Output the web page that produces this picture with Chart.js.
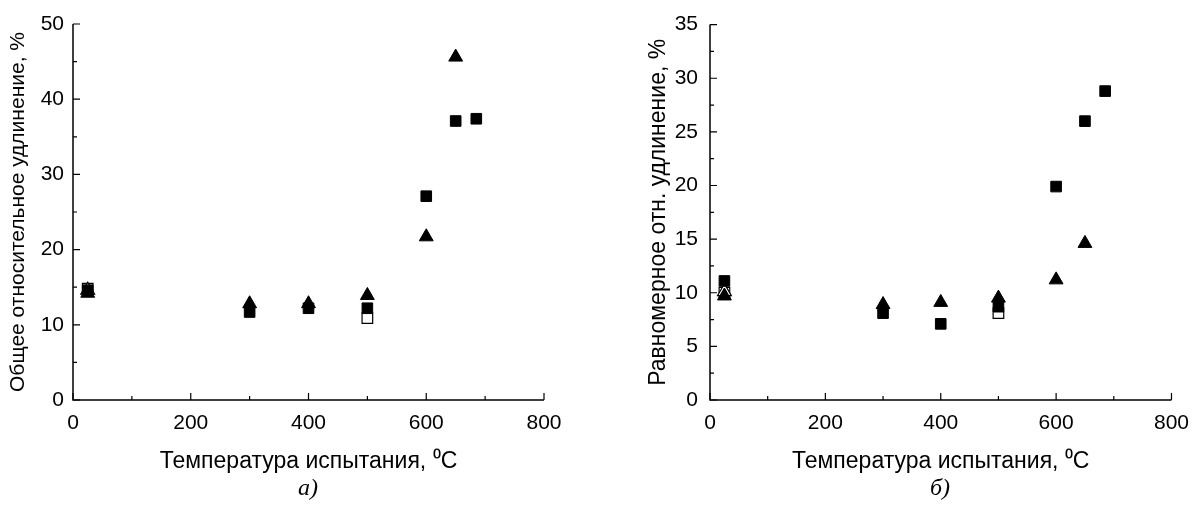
<!DOCTYPE html>
<html>
<head>
<meta charset="utf-8">
<script src="https://cdn.jsdelivr.net/npm/chart.js"></script>
<style>
  body { margin: 0; background: #fff; }
  #wrap { position: relative; width: 1200px; height: 508px; }
  canvas { position: absolute; top: 0; }
  .cap { position: absolute; top: 474px; font: italic 24px "Liberation Serif", serif; color: #000; }
</style>
</head>
<body>
<div id="wrap">
  <canvas id="totalChart" width="600" height="508" style="left:0"></canvas>
  <canvas id="uniformChart" width="600" height="508" style="left:600px"></canvas>
  <div class="cap" style="left:298px">а)</div>
  <div class="cap" style="left:930px">б)</div>
</div>
<script>
// температуры испытания, °C
var tempsSquares = [25, 300, 400, 500, 600, 650, 685];
var tempsTriangles = [25, 300, 400, 500, 600, 650];
var tempsOpenSquares = [25, 500];
var tempsOpenTriangles = [25];

// а) общее относительное удлинение, %
var totalSquares = [14.6, 11.7, 12.2, 12.2, 27.1, 37.1, 37.4];
var totalTriangles = [14.2, 12.8, 12.8, 13.9, 21.7, 45.6];
var totalOpenSquares = [14.8, 10.9];
var totalOpenTriangles = [14.6];

// б) равномерное отн. удлинение, %
var uniformSquares = [11.1, 8.1, 7.1, 8.7, 19.9, 26.0, 28.8];
var uniformTriangles = [9.7, 8.9, 9.1, 9.5, 11.2, 14.6];
var uniformOpenSquares = [10.0, 8.1];
var uniformOpenTriangles = [10.1];

var xTicks = [0, 200, 400, 600, 800];
var totalTicks = [0, 10, 20, 30, 40, 50];
var uniformTicks = [0, 5, 10, 15, 20, 25, 30, 35];

var FONT = '"Liberation Sans", Arial, sans-serif';

function pts(xs, ys) {
    return xs.map(function(x, i) { return { x: x, y: ys[i] }; });
}

// оси с внутренними засечками (основные и промежуточные)
var inwardAxes = {
    id: 'inwardAxes',
    beforeDatasetsDraw: function(chart) {
        var ctx = chart.ctx, a = chart.chartArea;
        var x = chart.scales.x, y = chart.scales.y;
        var xs = x.ticks.map(function(t) { return t.value; });
        var ys = y.ticks.map(function(t) { return t.value; });
        ctx.save();
        ctx.strokeStyle = '#000';
        ctx.lineWidth = 1.5;
        ctx.beginPath();
        ctx.moveTo(a.left, a.top);
        ctx.lineTo(a.left, a.bottom);
        ctx.lineTo(a.right, a.bottom);
        ctx.stroke();
        ctx.lineWidth = 1.2;
        ctx.beginPath();
        xs.forEach(function(v, i) {
            var px = x.getPixelForValue(v);
            ctx.moveTo(px, a.bottom); ctx.lineTo(px, a.bottom - 7);
            if (i < xs.length - 1) {
                var mx = x.getPixelForValue((v + xs[i + 1]) / 2);
                ctx.moveTo(mx, a.bottom); ctx.lineTo(mx, a.bottom - 4);
            }
        });
        ys.forEach(function(v, i) {
            var py = y.getPixelForValue(v);
            ctx.moveTo(a.left, py); ctx.lineTo(a.left + 7, py);
            if (i < ys.length - 1) {
                var my = y.getPixelForValue((v + ys[i + 1]) / 2);
                ctx.moveTo(a.left, my); ctx.lineTo(a.left + 4, my);
            }
        });
        ctx.stroke();
        ctx.restore();
    }
};

function makeChart(id, sq, tri, osq, otri, yTicks, yTitle, yTitleSize, yWidth, yLabelPad, yTitlePad, rightPad) {
    var ctx = document.getElementById(id).getContext('2d');
    return new Chart(ctx, {
        type: 'scatter',
        data: {
            datasets: [
                { data: pts(tempsTriangles, tri), pointStyle: 'triangle', pointRadius: 8,
                  backgroundColor: '#000', borderColor: '#000', borderWidth: 1, order: 1 },
                { data: pts(tempsSquares, sq), pointStyle: 'rect', pointRadius: 7.5,
                  backgroundColor: '#000', borderColor: '#000', borderWidth: 1, order: 2 },
                { data: pts(tempsOpenTriangles, otri), pointStyle: 'triangle', pointRadius: 8,
                  backgroundColor: '#fff', borderColor: '#000', borderWidth: 1.2, order: 3 },
                { data: pts(tempsOpenSquares, osq), pointStyle: 'rect', pointRadius: 7.5,
                  backgroundColor: '#fff', borderColor: '#000', borderWidth: 1.2, order: 4 }
            ]
        },
        options: {
            responsive: false,
            animation: false,
            layout: { padding: { top: 24, right: rightPad, left: 0, bottom: 0 } },
            scales: {
                x: {
                    type: 'linear',
                    min: xTicks[0],
                    max: xTicks[xTicks.length - 1],
                    afterBuildTicks: function(s) { s.ticks = xTicks.map(function(v) { return { value: v }; }); },
                    grid: { display: false, drawTicks: false },
                    border: { display: false },
                    ticks: { color: '#000', padding: 11, maxRotation: 0, font: { family: FONT, size: 21 } },
                    title: { display: true, text: 'Температура испытания, ⁰C', color: '#000',
                             padding: { top: 0, bottom: 33 }, font: { family: FONT, size: 23 } },
                    afterFit: function(s) { s.height = 108; }
                },
                y: {
                    type: 'linear',
                    min: yTicks[0],
                    max: yTicks[yTicks.length - 1],
                    afterBuildTicks: function(s) { s.ticks = yTicks.map(function(v) { return { value: v }; }); },
                    grid: { display: false, drawTicks: false },
                    border: { display: false },
                    ticks: { color: '#000', padding: yLabelPad, font: { family: FONT, size: 21 } },
                    title: { display: true, text: yTitle, color: '#000',
                             padding: { top: yTitlePad, bottom: 0 }, font: { family: FONT, size: yTitleSize } },
                    afterFit: function(s) { s.width = yWidth; }
                }
            },
            plugins: {
                legend: { display: false },
                tooltip: { enabled: false }
            }
        },
        plugins: [inwardAxes]
    });
}

makeChart('totalChart', totalSquares, totalTriangles, totalOpenSquares, totalOpenTriangles,
          totalTicks, 'Общее относительное удлинение, %', 21, 73, 9, 6, 56);
makeChart('uniformChart', uniformSquares, uniformTriangles, uniformOpenSquares, uniformOpenTriangles,
          uniformTicks, 'Равномерное отн. удлинение, %', 23, 110, 12, 45, 23);
</script>
</body>
</html>
